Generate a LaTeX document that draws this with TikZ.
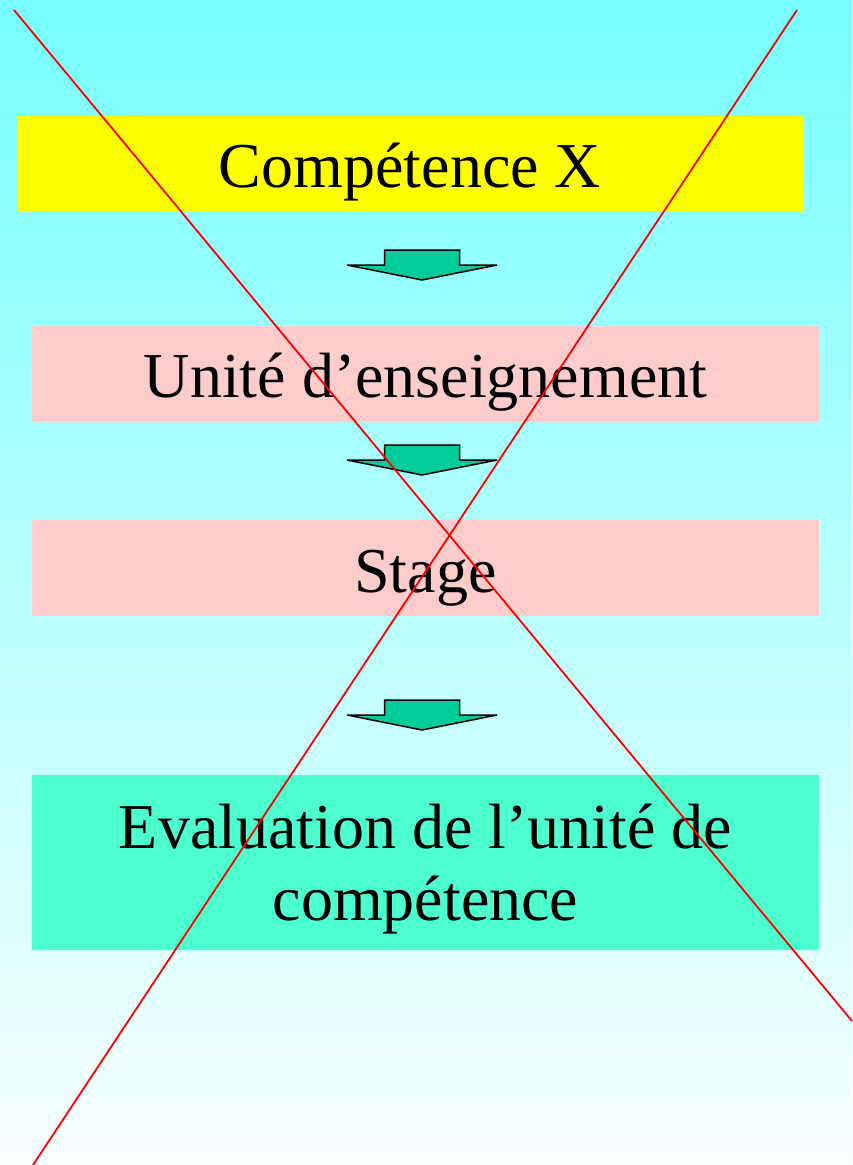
\documentclass[tikz,border=0pt]{standalone}
\usepackage{fontspec}
\setmainfont{Liberation Serif}
\usetikzlibrary{positioning}

\definecolor{skytop}{RGB}{119,255,255}
\definecolor{skybottom}{RGB}{248,255,255}
\definecolor{boxyellow}{RGB}{255,255,0}
\definecolor{boxpink}{RGB}{255,204,204}
\definecolor{boxgreen}{RGB}{77,255,206}
\definecolor{arrowgreen}{RGB}{0,204,153}

\tikzset{
  unit/.style={rectangle, inner sep=0pt, minimum width=787pt, minimum height=96pt,
    text height=60pt, text depth=12pt,
    font=\fontsize{64}{72}\selectfont, align=center},
  downarrow/.pic={
    \filldraw[fill=arrowgreen, draw=black, line width=1.5pt, line join=miter]
      (-37.5,-30) -- (37.5,-30) -- (37.5,-15) -- (75,-15) -- (0,0)
      -- (-75,-15) -- (-37.5,-15) -- cycle;
  }
}

\begin{document}
\begin{tikzpicture}[x=1pt, y=-1pt]
        \useasboundingbox (0,0) rectangle (852,1165);
        \shade[top color=skytop, bottom color=skybottom] (0,0) rectangle (852,1165);

        \node[unit, fill=boxyellow, minimum width=786pt] (comp) at (410,163.5) {Compétence X};
        \node[unit, fill=boxpink] (ue) at (425.5,373.5) {Unité d’enseignement};
        \node[unit, fill=boxpink] (stage) at (425.5,568) {Stage};
        \node[unit, fill=boxgreen, minimum height=175pt, text height=130pt, text depth=15pt]
          (eval) at (425.5,862.5) {Evaluation de l’unité de\\compétence};

        \pic at (422,280) {downarrow};
        \pic at (422,475) {downarrow};
        \pic at (422,730) {downarrow};

        % the cross
        \coordinate (c1) at (14,10);
        \coordinate (c2) at (852,1021);
        \coordinate (c3) at (797,10);
        \coordinate (c4) at (33,1165);
        \draw[red, line width=1.8pt] (c1) -- (c2);
        \draw[red, line width=1.8pt] (c3) -- (c4);
      \end{tikzpicture}
\end{document}
